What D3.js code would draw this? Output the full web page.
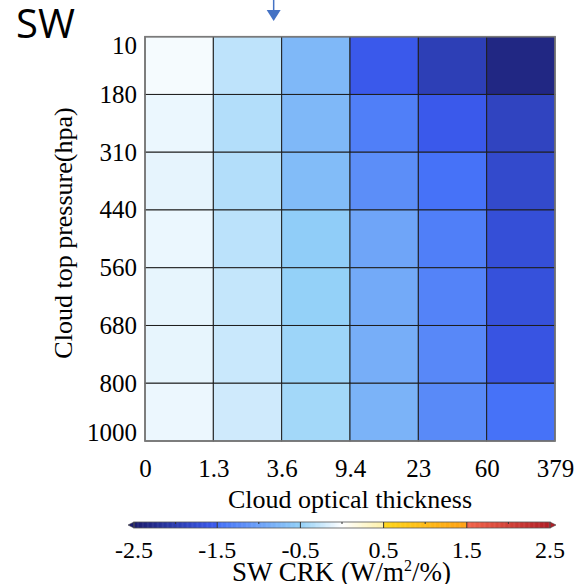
<!DOCTYPE html>
<html>
<head>
<meta charset="utf-8">
<script src="https://cdn.jsdelivr.net/npm/d3@7"></script>
<style>
  body { margin: 0; background: #fff; }
  svg { display: block; }
</style>
</head>
<body>
<svg id="chart" width="577" height="584"></svg>
<script>
// optical thickness bin edges (x) and cloud top pressure edges (y, top to bottom)
var tauEdges = ["0", "1.3", "3.6", "9.4", "23", "60", "379"];
var pressureEdges = ["10", "180", "310", "440", "560", "680", "800", "1000"];

// SW cloud radiative kernel per pressure bin, one value per tau bin
var crk10  = [-0.045, -0.30, -0.75, -1.55, -1.95, -2.33];
var crk180 = [-0.09, -0.35, -0.75, -1.34, -1.55, -1.87];
var crk310 = [-0.115, -0.35, -0.71, -1.19, -1.48, -1.78];
var crk440 = [-0.09, -0.31, -0.53, -0.95, -1.34, -1.70];
var crk560 = [-0.11, -0.27, -0.49, -0.90, -1.30, -1.67];
var crk680 = [-0.11, -0.25, -0.45, -0.85, -1.25, -1.62];
var crk800 = [-0.085, -0.22, -0.42, -0.80, -1.23, -1.48];
var crkRows = [crk10, crk180, crk310, crk440, crk560, crk680, crk800];

// colour bar
var cbMajor = [-2.5, -1.5, -0.5, 0.5, 1.5, 2.5];
var cbMinor = [-2, -1, 0, 1, 2];

var serif = "'Liberation Serif', 'Times New Roman', serif";

var svg = d3.select('#chart');

// plot frame (window.top is taken, hence the prefix)
var plotLeft = 145, plotRight = 555, plotTop = 36.7, plotBottom = 441;

// cells sit in bands, labels sit on the band edges
var xBand = d3.scaleBand().domain(d3.range(tauEdges.length - 1)).range([plotLeft, plotRight]);
var yBand = d3.scaleBand().domain(d3.range(pressureEdges.length - 1)).range([plotTop, plotBottom]);
var xEdge = d3.scalePoint().domain(tauEdges).range([plotLeft, plotRight]);
var yEdge = d3.scalePoint().domain(pressureEdges).range([plotTop, plotBottom]);

// blue-white-orange-red map with steps at -1.5, 0.5 and 1.5
var color = d3.scaleLinear()
    .domain([-2.5, -1.5001, -1.5, -0.5, 0, 0.4999, 0.5, 1.4999, 1.5, 2.5])
    .range(['#1b1c6c', '#3c5cf2', '#4470f8', '#92d0f8', '#ffffff',
            '#fff1a8', '#ffd61a', '#ffa014', '#f2644a', '#b01e26'])
    .clamp(true);

var cells = [];
crkRows.forEach(function(row, i) {
  row.forEach(function(v, j) {
    cells.push({ row: i, col: j, value: v });
  });
});

svg.append('g')
  .selectAll('rect')
  .data(cells)
  .enter().append('rect')
    .attr('x', function(d) { return xBand(d.col); })
    .attr('y', function(d) { return yBand(d.row); })
    .attr('width', xBand.bandwidth())
    .attr('height', yBand.bandwidth())
    .attr('fill', function(d) { return color(d.value); })
    .attr('stroke', '#1e1e1e')
    .attr('stroke-width', 1);

// outer frame
svg.append('rect')
  .attr('x', plotLeft)
  .attr('y', plotTop)
  .attr('width', plotRight - plotLeft)
  .attr('height', plotBottom - plotTop)
  .attr('fill', 'none')
  .attr('stroke', '#7a7a7a')
  .attr('stroke-width', 1.6);

// x axis labels
var xAxis = svg.append('g')
  .attr('transform', 'translate(0,' + plotBottom + ')')
  .call(d3.axisBottom(xEdge).tickSize(0).tickPadding(18));
xAxis.select('.domain').remove();
xAxis.selectAll('text')
  .style('font-family', serif)
  .style('font-size', '25px')
  .attr('fill', '#000');

// y axis labels, end labels pulled inside the frame
var yAxis = svg.append('g')
  .attr('transform', 'translate(' + plotLeft + ',0)')
  .call(d3.axisLeft(yEdge).tickSize(0).tickPadding(8));
yAxis.select('.domain').remove();
yAxis.selectAll('text')
  .style('font-family', serif)
  .style('font-size', '25px')
  .attr('fill', '#000')
  .attr('dy', function(d, i) {
    if (i === 0) return '0.66em';
    if (i === pressureEdges.length - 1) return '-0.04em';
    return '0.32em';
  });

svg.append('text')
  .attr('x', (plotLeft + plotRight) / 2)
  .attr('y', 508)
  .attr('text-anchor', 'middle')
  .style('font-family', serif)
  .style('font-size', '26px')
  .text('Cloud optical thickness');

svg.append('text')
  .attr('transform', 'translate(72,233) rotate(-90)')
  .attr('text-anchor', 'middle')
  .style('font-family', serif)
  .style('font-size', '26px')
  .text('Cloud top pressure(hpa)');

// panel tag
svg.append('text')
  .attr('x', 16)
  .attr('y', 38)
  .style('font-family', "'Open Sans', 'Noto Sans', sans-serif")
  .style('font-size', '40px')
  .text('SW');

// arrow marking the 3.6 boundary
var ax = xEdge('3.6') - 8;
svg.append('line')
  .attr('x1', ax).attr('x2', ax)
  .attr('y1', 0).attr('y2', 12)
  .attr('stroke', '#4472c4')
  .attr('stroke-width', 1.5);
svg.append('path')
  .attr('d', 'M' + (ax - 7) + ',10 L' + (ax + 7) + ',10 L' + ax + ',21 Z')
  .attr('fill', '#4472c4');

// colour bar
var cbTop = 522, cbH = 6;
var cbx = d3.scaleLinear().domain([-2.5, 2.5]).range([134, 550]);
var cb = svg.append('g');
var steps = d3.range(-2.5, 2.5, 0.01);
cb.selectAll('rect')
  .data(steps)
  .enter().append('rect')
    .attr('x', function(d) { return cbx(d); })
    .attr('y', cbTop)
    .attr('width', cbx(0.01) - cbx(0) + 0.5)
    .attr('height', cbH)
    .attr('fill', function(d) { return color(d + 0.005); });

// end triangles
cb.append('path')
  .attr('d', 'M' + cbx(-2.5) + ',' + cbTop + ' L' + (cbx(-2.5) - 6) + ',' + (cbTop + cbH / 2) +
             ' L' + cbx(-2.5) + ',' + (cbTop + cbH) + ' Z')
  .attr('fill', color(-2.5))
  .attr('stroke', '#444').attr('stroke-width', 0.6);
cb.append('path')
  .attr('d', 'M' + cbx(2.5) + ',' + cbTop + ' L' + (cbx(2.5) + 6) + ',' + (cbTop + cbH / 2) +
             ' L' + cbx(2.5) + ',' + (cbTop + cbH) + ' Z')
  .attr('fill', color(2.5))
  .attr('stroke', '#444').attr('stroke-width', 0.6);
cb.append('rect')
  .attr('x', cbx(-2.5)).attr('y', cbTop)
  .attr('width', cbx(2.5) - cbx(-2.5)).attr('height', cbH)
  .attr('fill', 'none')
  .attr('stroke', '#555').attr('stroke-width', 0.8);

cb.selectAll('.major')
  .data(cbMajor.slice(1, -1))
  .enter().append('line')
    .attr('class', 'major')
    .attr('x1', function(d) { return cbx(d); })
    .attr('x2', function(d) { return cbx(d); })
    .attr('y1', cbTop).attr('y2', cbTop + cbH)
    .attr('stroke', '#333').attr('stroke-width', 1);
cb.selectAll('.minor')
  .data(cbMinor)
  .enter().append('line')
    .attr('class', 'minor')
    .attr('x1', function(d) { return cbx(d); })
    .attr('x2', function(d) { return cbx(d); })
    .attr('y1', cbTop).attr('y2', cbTop + 2)
    .attr('stroke', '#333').attr('stroke-width', 1);

cb.selectAll('.cblab')
  .data(cbMajor)
  .enter().append('text')
    .attr('class', 'cblab')
    .attr('x', function(d) { return cbx(d); })
    .attr('y', 558)
    .attr('text-anchor', 'middle')
    .style('font-family', serif)
    .style('font-size', '24px')
    .text(function(d) { return d; });

var cbTitle = svg.append('text')
  .attr('x', 341.5)
  .attr('y', 581)
  .attr('text-anchor', 'middle')
  .style('font-family', serif)
  .style('font-size', '27px');
cbTitle.append('tspan').text('SW CRK (W/m');
cbTitle.append('tspan').attr('dy', -10).style('font-size', '16px').text('2');
cbTitle.append('tspan').attr('dy', 10).text('/%)');
</script>
</body>
</html>
